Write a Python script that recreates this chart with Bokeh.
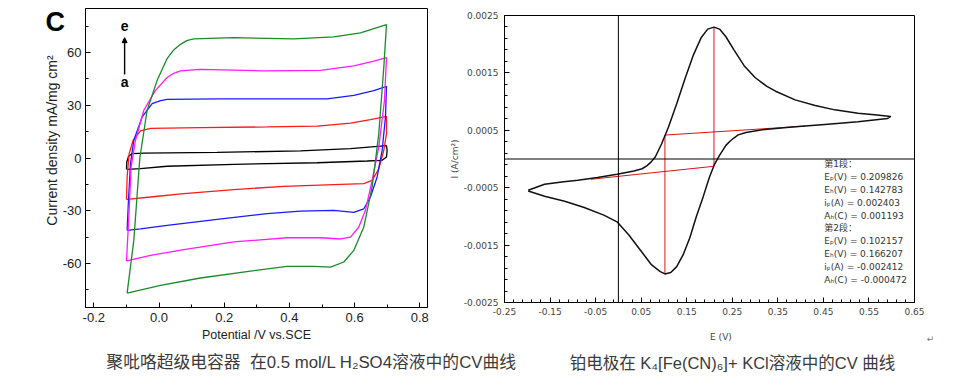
import numpy as np
from bokeh.plotting import figure
from bokeh.layouts import row, column
from bokeh.models import (FixedTicker, PrintfTickFormatter, Span, Label, Arrow,
                          NormalHead, Range1d, Spacer)
from bokeh.core.properties import value
from bokeh.embed import file_html
from bokeh.resources import INLINE

# ---------------- Left chart: polypyrrole supercapacitor CV loops ----------------
# potential (V vs SCE) and current density (mA/mg cm^2), one closed loop per scan rate
a_E = [-0.0998, -0.0988, -0.0937, -0.0824, -0.0466, 0.1783, 0.4340, 0.5873, 0.6978,
       0.6998, 0.6978, 0.6845, 0.6385, 0.4851, 0.2294, 0.0249, -0.0569, -0.0978, -0.0998]
a_J = [-6.1, -2.3, 0.9, 2.5, 2.8, 3.2, 4.0, 5.3, 7.0,
       4.4, 0.6, -1.3, -1.7, -2.7, -3.6, -4.7, -6.1, -6.5, -6.1]

b_E = [-0.0998, -0.0978, -0.0916, -0.0793, -0.0569, -0.0262, 0.1272, 0.3317, 0.4851, 0.5873,
       0.6487, 0.6978, 0.6978, 0.6896, 0.6742, 0.6538, 0.6282, 0.5362, 0.3828, 0.2294,
       0.0761, -0.0262, -0.0978, -0.0998]
b_J = [-23.7, -10.8, 2.5, 10.1, 15.4, 16.9, 17.3, 17.7, 18.2, 19.9,
       21.8, 23.7, 13.9, 4.4, -6.1, -12.7, -14.6, -15.2, -16.1, -18.0,
       -20.3, -22.2, -23.5, -23.7]

c_E = [-0.0978, -0.0937, -0.0875, -0.0773, -0.0517, -0.0211, 0.0050, 0.0249, 0.1783, 0.5157,
       0.5975, 0.6589, 0.6978, 0.6947, 0.6845, 0.6691, 0.6487, 0.6282, 0.5975, 0.5362,
       0.4340, 0.3317, 0.1783, 0.0249, -0.0569, -0.0978]
c_J = [-41.2, -24.1, -3.2, 10.1, 23.4, 30.9, 32.7, 33.4, 33.6, 33.6,
       35.7, 38.4, 40.8, 23.4, 4.4, -10.8, -22.2, -28.9, -30.9, -29.8,
       -30.2, -31.7, -34.9, -38.4, -40.3, -41.2]

d_E = [-0.0998, -0.0926, -0.0855, -0.0722, -0.0466, -0.0108, 0.0249, 0.0450, 0.0658, 0.1272,
       0.3215, 0.4953, 0.5975, 0.6589, 0.6978, 0.6916, 0.6742, 0.6538, 0.6333, 0.6129,
       0.5873, 0.5567, 0.4953, 0.3930, 0.2294, 0.0761, -0.0262, -0.0926, -0.0998]
d_J = [-58.7, -33.6, -5.1, 10.1, 27.2, 38.5, 45.8, 48.2, 49.6, 50.5,
       49.6, 49.9, 52.4, 55.1, 57.1, 32.8, 6.3, -12.7, -29.8, -39.3,
       -45.0, -46.1, -45.4, -45.4, -47.8, -52.2, -55.4, -58.3, -58.7]

e_E = [-0.0978, -0.0773, -0.0589, -0.0364, -0.0057, 0.0249, 0.0450, 0.0658, 0.0850, 0.1067,
       0.2294, 0.4135, 0.5362, 0.6180, 0.6978, 0.6896, 0.6742, 0.6538, 0.6282, 0.5975,
       0.5669, 0.5260, 0.4749, 0.3930, 0.2806, 0.1272, 0.0045, -0.0978]
e_J = [-76.9, -46.9, 0.0, 27.2, 44.2, 56.6, 61.5, 64.7, 66.8, 67.8,
       68.5, 67.8, 68.9, 71.2, 75.9, 51.8, 13.9, -16.5, -39.3, -52.6,
       -59.2, -62.1, -61.7, -61.7, -64.4, -68.3, -72.5, -76.9]

loop_colors = ["#000000", "#ff1a1a", "#1a1aff", "#ff1aff", "#1a8a2a"]

left_xticks = [-0.2, 0.0, 0.2, 0.4, 0.6, 0.8]
left_xminor = [-0.1, 0.1, 0.3, 0.5, 0.7]
left_yticks = [-60, -30, 0, 30, 60]
left_yminor = [-75, -45, -15, 15, 45, 75]

# ---------------- Right chart: Pt electrode in K4[Fe(CN)6] + KCl ----------------
cv_E = [-0.198, -0.162, -0.120, -0.089, -0.046, -0.003, 0.034, 0.052, 0.063, 0.072,
        0.081, 0.095, 0.110, 0.128, 0.146, 0.164, 0.182, 0.196, 0.2098, 0.222,
        0.236, 0.254, 0.276, 0.300, 0.326, 0.345, 0.388, 0.432, 0.475, 0.526,
        0.562, 0.598,
        0.591, 0.526, 0.453, 0.381, 0.316, 0.280, 0.263, 0.254, 0.245, 0.236,
        0.222, 0.211, 0.200, 0.186, 0.171, 0.157, 0.142, 0.128, 0.115, 0.1022,
        0.092, 0.073, 0.048, 0.023, -0.003, -0.032, -0.075, -0.118, -0.162, -0.198]
cv_I = [-0.000544, -0.000440, -0.000395, -0.000370, -0.000324, -0.000266, -0.000208, -0.000170,
        -0.000116, -0.000050, 0.000035, 0.000266, 0.000556, 0.000961, 0.001395, 0.001800,
        0.002118, 0.002263, 0.002297, 0.002263, 0.002130, 0.001898, 0.001626, 0.001420,
        0.001265, 0.001181, 0.001030, 0.000932, 0.000856, 0.000799, 0.000770, 0.000741,
        0.000706, 0.000648, 0.000602, 0.000556, 0.000509, 0.000463, 0.000420, 0.000370,
        0.000310, 0.000237, 0.000064, -0.000093, -0.000313, -0.000660, -0.001007, -0.001366,
        -0.001672, -0.001875, -0.001979, -0.002002, -0.001962, -0.001846, -0.001586, -0.001325,
        -0.001094, -0.000978, -0.000845, -0.000735, -0.000648, -0.000556]

# peak analysis lines (baseline + peak height)
base1_E = [-0.0604, 0.209826]
base1_I = [-0.000353, -0.000127]
peak1_E = [0.209826, 0.209826]
peak1_I = [-0.000127, 0.002297]
peak2_E = [0.102157, 0.102157]
peak2_I = [-0.002002, 0.000417]
base2_E = [0.102157, 0.410]
base2_I = [0.000417, 0.000573]

info_lines = ["第1段：", "Eₚ(V) = 0.209826", "Eₕ(V) = 0.142783", "iₚ(A) = 0.002403",
              "Aₕ(C) = 0.001193", "第2段：", "Eₚ(V) = 0.102157", "Eₕ(V) = 0.166207",
              "iₚ(A) = -0.002412", "Aₕ(C) = -0.000472"]

right_xticks = [-0.25, -0.15, -0.05, 0.05, 0.15, 0.25, 0.35, 0.45, 0.55, 0.65]
right_yticks = [-0.0025, -0.0015, -0.0005, 0.0005, 0.0015, 0.0025]

caption_left = "聚吡咯超级电容器\u00a0\u00a0在0.5 mol/L H₂SO4溶液中的CV曲线"
caption_right = "铂电极在 K₄[Fe(CN)₆]+ KCl溶液中的CV 曲线"

ARIAL = "Liberation Sans"
SMALL = "DejaVu Sans, Noto Sans CJK SC"
NB = "\u00a0"

# ---------------- build left figure ----------------
p1 = figure(width=446, height=348, x_range=Range1d(-0.2255, 0.8236), y_range=Range1d(-85.1, 85.1),
            output_backend="svg", toolbar_location=None,
            min_border_left=85, min_border_right=19, min_border_top=8, min_border_bottom=41)
p1.grid.visible = False
p1.outline_line_color = "black"
p1.outline_line_alpha = 1.0
p1.outline_line_width = 1
p1.background_fill_color = "white"
p1.border_fill_color = "white"

for E, J, col in zip([a_E, b_E, c_E, d_E, e_E], [a_J, b_J, c_J, d_J, e_J], loop_colors):
    p1.line(E, J, line_color=col, line_width=1.3)

p1.xaxis.ticker = FixedTicker(ticks=left_xticks, minor_ticks=left_xminor)
p1.yaxis.ticker = FixedTicker(ticks=left_yticks, minor_ticks=left_yminor)
p1.xaxis.formatter = PrintfTickFormatter(format="%.1f")
p1.yaxis.formatter = PrintfTickFormatter(format="%d")
for ax in (p1.xaxis[0], p1.yaxis[0]):
    ax.axis_line_color = "black"
    ax.major_tick_in = 5
    ax.major_tick_out = 0
    ax.minor_tick_in = 3
    ax.minor_tick_out = 0
    ax.major_tick_line_color = "black"
    ax.minor_tick_line_color = "black"
    ax.major_label_text_font = ARIAL
    ax.major_label_text_font_size = "13px"
    ax.major_label_text_color = "#222222"
    ax.axis_label_text_font = ARIAL
    ax.axis_label_text_font_style = "normal"
    ax.axis_label_text_color = "#222222"
p1.xaxis.axis_label = "Potential /V vs.SCE"
p1.xaxis.axis_label_text_font_size = "12.5px"
p1.xaxis.major_label_standoff = 5
p1.xaxis.axis_label_standoff = 3
p1.yaxis.axis_label = NB * 9 + "Current density mA/mg cm²"
p1.yaxis.axis_label_text_font_size = "14px"
p1.yaxis.major_label_standoff = 4
p1.yaxis.axis_label_standoff = 0

p1.add_layout(Label(x=-0.348, y=77.4, text="C", text_font=ARIAL, text_font_style="bold",
                    text_font_size="27px", text_color="black", text_baseline="alphabetic"), "left")
p1.text(x=[-0.1055, -0.1055], y=[75.0, 43.1], text=["e", "a"], text_font=value(ARIAL),
        text_font_style="bold", text_font_size="14px", text_align="center",
        text_baseline="middle", text_color="black")
p1.add_layout(Arrow(end=NormalHead(size=5, fill_color="black", line_color="black"),
                    x_start=-0.1055, y_start=47.5, x_end=-0.1055, y_end=68.5,
                    line_width=1.4, line_color="black"))

# ---------------- build right figure ----------------
p2 = figure(width=532, height=337, x_range=Range1d(-0.25, 0.65), y_range=Range1d(-0.0025, 0.0025),
            output_backend="svg", toolbar_location=None,
            min_border_left=53, min_border_right=64, min_border_top=8, min_border_bottom=41)
p2.grid.visible = False
p2.outline_line_color = "black"
p2.outline_line_alpha = 1.0
p2.outline_line_width = 1
p2.background_fill_color = "white"
p2.border_fill_color = "white"

p2.add_layout(Span(location=0, dimension="height", line_color="black", line_width=1))
p2.add_layout(Span(location=0, dimension="width", line_color="black", line_width=1))

p2.line(base1_E, base1_I, line_color="#e01010", line_width=1)
p2.line(peak1_E, peak1_I, line_color="#e01010", line_width=1)
p2.line(peak2_E, peak2_I, line_color="#e01010", line_width=1)
p2.line(base2_E, base2_I, line_color="#e01010", line_width=1)
p2.line(cv_E, cv_I, line_color="#111111", line_width=1.5)

rx_minor = [round(v, 2) for v in np.arange(-0.25, 0.651, 0.02) if min(abs(v - t) for t in right_xticks) > 1e-6]
ry_minor = [round(v, 5) for v in np.arange(-0.0025, 0.00251, 0.0002) if min(abs(v - t) for t in right_yticks) > 1e-9]
p2.xaxis.ticker = FixedTicker(ticks=right_xticks, minor_ticks=rx_minor)
p2.yaxis.ticker = FixedTicker(ticks=right_yticks, minor_ticks=ry_minor)
p2.xaxis.formatter = PrintfTickFormatter(format="%.2f")
p2.yaxis.formatter = PrintfTickFormatter(format="%.4f")
for ax in (p2.xaxis[0], p2.yaxis[0]):
    ax.axis_line_color = "black"
    ax.major_tick_in = 5
    ax.major_tick_out = 0
    ax.minor_tick_in = 3
    ax.minor_tick_out = 0
    ax.major_tick_line_color = "black"
    ax.minor_tick_line_color = "black"
    ax.major_label_text_font = "DejaVu Sans"
    ax.major_label_text_font_size = "9px"
    ax.major_label_text_color = "#444444"
    ax.axis_label_text_font = "DejaVu Sans"
    ax.axis_label_text_font_style = "normal"
    ax.axis_label_text_font_size = "9px"
    ax.axis_label_text_color = "#444444"
p2.xaxis.axis_label = NB * 8 + "E (V)"
p2.xaxis.major_label_standoff = 5
p2.xaxis.axis_label_standoff = 14
p2.yaxis.axis_label = "I (A/cm²)"
p2.yaxis.major_label_standoff = 6
p2.yaxis.axis_label_standoff = 1

info_y = [(159.0 - (164.3 + 12.85 * i)) / 57600.0 for i in range(len(info_lines))]
p2.text(x=[0.452] * len(info_lines), y=info_y, text=info_lines, text_font=value(SMALL),
        text_font_size="9px", text_color="#333333", text_align="left", text_baseline="middle")
p2.add_layout(Label(x=0.685, y=-0.00314, text="↵", text_font=SMALL, text_font_size="9px",
                    text_color="#777777", text_align="center", text_baseline="middle"), "right")

right_col = column(Spacer(width=532, height=7), p2, Spacer(width=532, height=4))

# ---------------- captions ----------------
p3 = figure(width=978, height=37, x_range=Range1d(0, 978), y_range=Range1d(0, 37),
            output_backend="svg", toolbar_location=None, x_axis_type=None, y_axis_type=None,
            min_border=0)
p3.grid.visible = False
p3.outline_line_color = None
p3.text(x=[311], y=[23], text=[caption_left],
        text_font=value("Liberation Sans, Noto Sans CJK SC"), text_font_size="16.8px",
        text_color="#3a3a3a", text_align="center", text_baseline="middle")
p3.text(x=[732], y=[23], text=[caption_right],
        text_font=value("Liberation Sans, Noto Sans CJK SC"), text_font_size="16.5px",
        text_color="#3a3a3a", text_align="center", text_baseline="middle")

layout = column(row(p1, right_col), p3)
open("out.html", "w").write(file_html(layout, INLINE))
